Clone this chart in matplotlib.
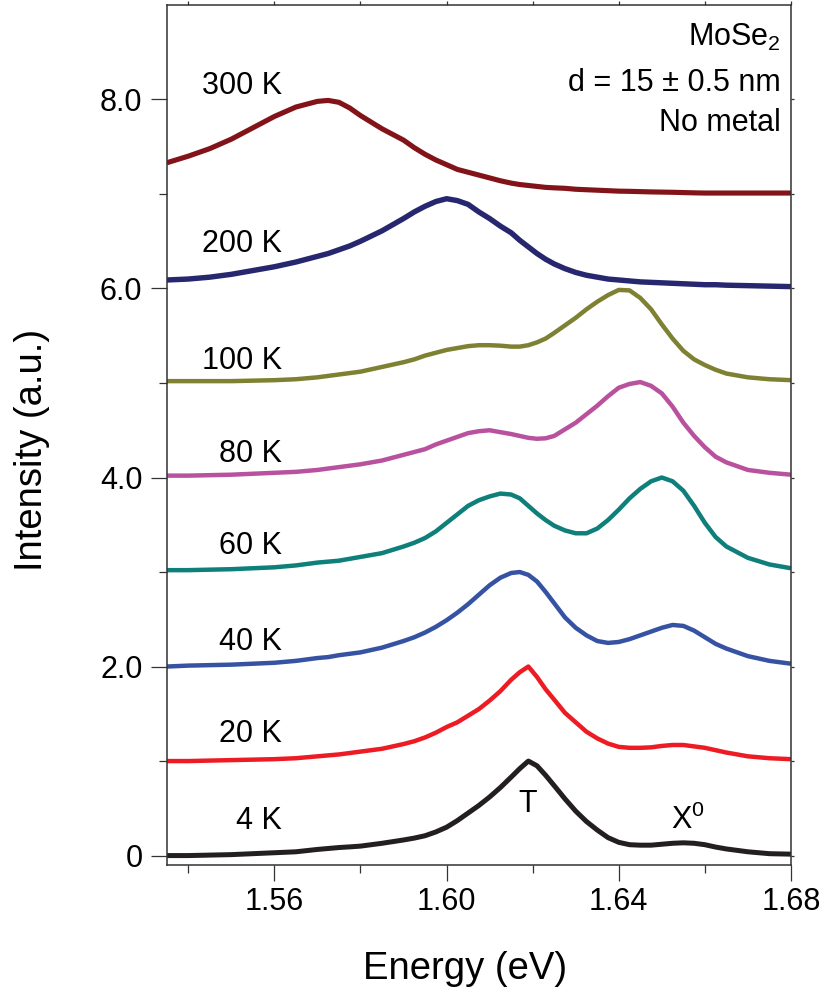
import matplotlib
matplotlib.use("Agg")
import matplotlib.pyplot as plt
from matplotlib.ticker import FixedLocator

plt.rcParams['font.family'] = ['Liberation Sans', 'DejaVu Sans']
plt.rcParams['mathtext.fontset'] = 'custom'
plt.rcParams['mathtext.rm'] = 'Liberation Sans'

# Energia (eV), rejilla comun para todas las curvas (mas densa en los picos)
energy = [1.535, 1.54, 1.545, 1.55, 1.555, 1.56, 1.565, 1.57,
          1.5725, 1.575, 1.5775, 1.58, 1.585, 1.59,
          1.5925, 1.595, 1.5975, 1.60, 1.6025, 1.605, 1.6075, 1.61,
          1.6125, 1.615, 1.617, 1.619, 1.621, 1.623, 1.625,
          1.6275, 1.63, 1.6325, 1.635, 1.6375, 1.64, 1.6425, 1.645,
          1.6475, 1.65, 1.6525, 1.655, 1.6575, 1.66, 1.6625, 1.665,
          1.67, 1.675, 1.68]

# Intensidad normalizada + desplazamiento vertical
pl_4k = [0.0, 0.0, 0.005, 0.01, 0.02, 0.03, 0.04, 0.065,
         0.075, 0.085, 0.092, 0.10, 0.13, 0.165,
         0.185, 0.21, 0.25, 0.30, 0.37, 0.45, 0.53, 0.62,
         0.72, 0.83, 0.92, 1.00, 0.95, 0.85, 0.74,
         0.60, 0.47, 0.36, 0.27, 0.19, 0.14, 0.115, 0.11,
         0.11, 0.12, 0.13, 0.135, 0.13, 0.115, 0.09, 0.07,
         0.04, 0.02, 0.015]
pl_20k = [1.0, 1.0, 1.005, 1.01, 1.015, 1.02, 1.03, 1.05,
          1.06, 1.07, 1.085, 1.10, 1.13, 1.18,
          1.21, 1.25, 1.30, 1.36, 1.41, 1.48, 1.55, 1.64,
          1.74, 1.86, 1.94, 2.00, 1.89, 1.76, 1.65,
          1.51, 1.41, 1.31, 1.24, 1.185, 1.15, 1.14, 1.14,
          1.145, 1.16, 1.17, 1.17, 1.155, 1.14, 1.115, 1.09,
          1.05, 1.03, 1.02]
pl_40k = [2.0, 2.01, 2.015, 2.02, 2.03, 2.04, 2.06, 2.09,
          2.10, 2.12, 2.135, 2.15, 2.20, 2.27,
          2.31, 2.36, 2.42, 2.49, 2.57, 2.66, 2.76, 2.86,
          2.94, 2.99, 3.00, 2.97, 2.90, 2.79, 2.67,
          2.52, 2.41, 2.33, 2.27, 2.25, 2.26, 2.29, 2.33,
          2.37, 2.41, 2.44, 2.43, 2.38, 2.31, 2.24, 2.19,
          2.11, 2.06, 2.03]
pl_60k = [3.02, 3.02, 3.025, 3.03, 3.04, 3.05, 3.07, 3.10,
          3.11, 3.12, 3.14, 3.16, 3.20, 3.27,
          3.31, 3.36, 3.43, 3.52, 3.61, 3.70, 3.76, 3.80,
          3.83, 3.82, 3.78, 3.70, 3.62, 3.55, 3.49,
          3.44, 3.41, 3.41, 3.46, 3.55, 3.66, 3.78, 3.88,
          3.96, 4.00, 3.96, 3.86, 3.70, 3.52, 3.37, 3.27,
          3.15, 3.08, 3.04]
pl_80k = [4.02, 4.02, 4.025, 4.03, 4.04, 4.05, 4.06, 4.08,
          4.095, 4.11, 4.125, 4.14, 4.18, 4.24,
          4.27, 4.30, 4.35, 4.39, 4.43, 4.47, 4.49, 4.50,
          4.48, 4.46, 4.44, 4.42, 4.41, 4.415, 4.44,
          4.51, 4.58, 4.67, 4.76, 4.86, 4.95, 4.99, 5.01,
          4.97, 4.89, 4.75, 4.58, 4.44, 4.32, 4.22, 4.16,
          4.08, 4.05, 4.03]
pl_100k = [5.02, 5.02, 5.02, 5.02, 5.025, 5.03, 5.04, 5.06,
           5.075, 5.09, 5.105, 5.12, 5.17, 5.22,
           5.25, 5.29, 5.32, 5.35, 5.37, 5.39, 5.40, 5.40,
           5.395, 5.385, 5.385, 5.40, 5.43, 5.47, 5.53,
           5.61, 5.69, 5.78, 5.86, 5.93, 5.985, 5.98, 5.90,
           5.78, 5.62, 5.47, 5.34, 5.25, 5.19, 5.14, 5.10,
           5.06, 5.04, 5.03]
pl_200k = [6.09, 6.10, 6.12, 6.15, 6.19, 6.23, 6.28, 6.34,
           6.37, 6.41, 6.45, 6.50, 6.61, 6.74,
           6.81, 6.87, 6.92, 6.95, 6.93, 6.89, 6.81, 6.74,
           6.66, 6.59, 6.51, 6.44, 6.37, 6.31, 6.26,
           6.21, 6.17, 6.14, 6.12, 6.10, 6.09, 6.08, 6.07,
           6.065, 6.06, 6.055, 6.05, 6.045, 6.04, 6.04, 6.035,
           6.03, 6.025, 6.02]
pl_300k = [7.33, 7.40, 7.48, 7.58, 7.70, 7.82, 7.92, 7.98,
           7.99, 7.97, 7.91, 7.83, 7.69, 7.57,
           7.49, 7.42, 7.36, 7.31, 7.26, 7.23, 7.20, 7.17,
           7.14, 7.115, 7.10, 7.09, 7.08, 7.07, 7.065,
           7.06, 7.05, 7.045, 7.04, 7.035, 7.03, 7.028, 7.025,
           7.022, 7.02, 7.018, 7.015, 7.012, 7.01, 7.01, 7.01,
           7.01, 7.01, 7.01]

series = [pl_4k, pl_20k, pl_40k, pl_60k, pl_80k, pl_100k, pl_200k, pl_300k]
temp_labels = ["4 K", "20 K", "40 K", "60 K", "80 K", "100 K", "200 K", "300 K"]
label_y = [0.28, 1.20, 2.18, 3.19, 4.16, 5.15, 6.39, 8.06]
colors = ["#231f20", "#ed1c24", "#3652a3", "#0e7f7a", "#b9529e",
          "#7f8132", "#27276f", "#821419"]
widths = [3.6, 3.2, 3.2, 3.2, 3.2, 3.2, 3.9, 3.7]

xticks = [1.56, 1.60, 1.64, 1.68]
xticks_minor = [1.54, 1.58, 1.62, 1.66]
yticks = [0, 2, 4, 6, 8]
ytick_labels = ["0", "2.0", "4.0", "6.0", "8.0"]
yticks_minor = [1, 3, 5, 7]

fig = plt.figure(figsize=(8.23, 9.92), dpi=100)
ax = fig.add_axes([0.2026, 0.128, 0.7585, 0.867])

for vals, c, lw in zip(series, colors, widths):
    ax.plot(energy, vals, color=c, lw=lw, solid_joinstyle="round",
            solid_capstyle="butt")

for lab, yy in zip(temp_labels, label_y):
    ax.text(1.5618, yy, lab, ha="right", va="baseline", fontsize=22)

ax.text(1.6188, 0.46, "T", ha="center", va="baseline", fontsize=22)
ax.text(1.656, 0.28, r"X$^\mathregular{0}$", ha="center", va="baseline", fontsize=22)

ax.text(1.6777, 8.57, r"MoSe$_\mathregular{2}$", ha="right", va="baseline", fontsize=22)
ax.text(1.6777, 8.09, "d = 15 ± 0.5 nm", ha="right", va="baseline", fontsize=22)
ax.text(1.6777, 7.67, "No metal", ha="right", va="baseline", fontsize=22)

ax.set_xlim(1.535, 1.68)
ax.set_ylim(-0.1, 9.0)

ax.xaxis.set_major_locator(FixedLocator(xticks))
ax.xaxis.set_minor_locator(FixedLocator(xticks_minor))
ax.set_xticklabels(["%.2f" % t for t in xticks])
ax.yaxis.set_major_locator(FixedLocator(yticks))
ax.yaxis.set_minor_locator(FixedLocator(yticks_minor))
ax.set_yticklabels(ytick_labels)

ax.tick_params(which="major", direction="out", length=11.5, width=0.9,
               color="#333333", labelsize=22)
ax.tick_params(which="minor", direction="out", length=5.8, width=0.9,
               color="#333333")
ax.tick_params(axis="x", which="major", pad=4.5)
ax.tick_params(axis="y", which="major", pad=6)

for s in ax.spines.values():
    s.set_linewidth(1.1)
    s.set_color("#333333")

# pequeñas marcas arriba y a la derecha
top = ax.secondary_xaxis("top")
top.xaxis.set_major_locator(FixedLocator(xticks))
top.xaxis.set_minor_locator(FixedLocator(xticks_minor))
top.tick_params(which="both", direction="out", length=3, width=0.9,
                color="#333333", labeltop=False)
top.spines["top"].set_visible(False)
right = ax.secondary_yaxis("right")
right.yaxis.set_major_locator(FixedLocator(yticks))
right.yaxis.set_minor_locator(FixedLocator(yticks_minor))
right.tick_params(which="both", direction="out", length=2, width=0.9,
                  color="#333333", labelright=False)
right.spines["right"].set_visible(False)

ax.text(0.478, -0.1326, "Energy (eV)", transform=ax.transAxes,
        ha="center", va="baseline", fontsize=27.5)
ax.text(-0.1997, 0.483, "Intensity (a.u.)", transform=ax.transAxes,
        ha="center", va="baseline", rotation=90, rotation_mode="anchor",
        fontsize=27.5)

fig.savefig("out.png", dpi=100)
